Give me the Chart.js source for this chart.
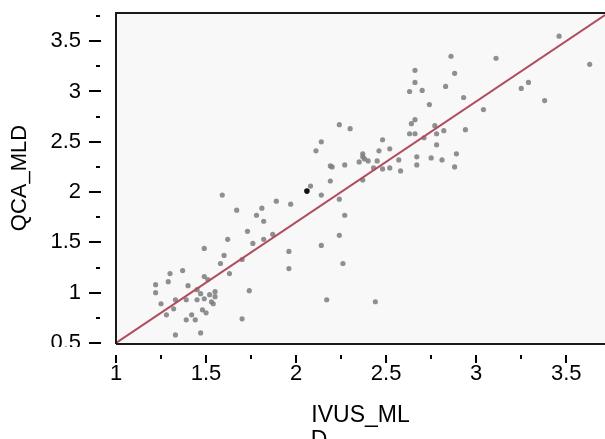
<!DOCTYPE html>
<html><head><meta charset="utf-8">
<script src="https://cdn.jsdelivr.net/npm/chart.js@4.4.1/dist/chart.umd.min.js"></script>
<style>html,body{margin:0;padding:0;background:#fff;}canvas{display:block;}</style>
</head><body>
<canvas id="c" width="605" height="439"></canvas>
<script>
const ivusMLD = [1.49,1.60,1.58,1.70,1.76,1.30,1.37,1.29,1.22,1.22,1.63,1.49,1.51,1.40,1.47,1.55,1.55,1.45,1.49,1.53,1.74,1.25,1.33,1.39,1.32,1.28,1.48,1.50,1.42,1.39,1.44,1.70,1.33,1.47,1.45,1.52,1.54,
  1.59,1.67,1.81,1.78,1.82,1.89,1.97,2.08,2.14,2.19,1.73,1.62,1.82,1.87,1.96,1.96,2.14,2.24,2.27,2.24,2.26,2.17,2.44,
  2.74,2.24,2.30,2.14,2.11,2.66,2.64,2.63,2.66,2.78,2.82,2.48,2.46,2.52,2.37,2.38,2.40,2.35,2.19,2.20,2.27,2.45,2.43,2.48,2.52,2.58,2.57,2.67,2.67,2.75,2.81,2.78,2.37,2.37,2.71,2.77,
  3.46,3.63,3.11,2.86,2.88,2.83,2.93,3.29,3.25,3.38,3.04,2.94,2.89,2.88,2.66,2.66,2.63,2.70];
const qcaMLD = [1.44,1.37,1.29,1.33,1.49,1.19,1.22,1.11,1.08,1.00,1.19,1.16,1.13,1.07,0.99,1.01,0.96,0.93,0.94,0.91,1.02,0.89,0.93,0.93,0.84,0.78,0.83,0.80,0.78,0.73,0.73,0.74,0.58,0.60,1.03,0.98,0.89,
  1.97,1.82,1.84,1.77,1.71,1.91,1.88,2.06,1.97,2.11,1.61,1.53,1.53,1.58,1.41,1.24,1.47,1.57,1.77,1.93,1.29,0.93,0.91,
  2.87,2.67,2.63,2.50,2.41,2.72,2.68,2.58,2.58,2.58,2.61,2.52,2.41,2.43,2.38,2.33,2.31,2.30,2.26,2.25,2.27,2.31,2.24,2.23,2.24,2.21,2.32,2.35,2.27,2.34,2.32,2.47,2.12,2.35,2.54,2.66,
  3.55,3.27,3.33,3.35,3.18,3.05,2.94,3.09,3.03,2.91,2.82,2.62,2.38,2.25,3.21,3.09,3.00,3.01];
const highlightX = [2.06];
const highlightY = [2.01];
const fitX = [1, 3.715];
const fitY = [0.5, 3.76];
const xMajorTicks = [1, 1.5, 2, 2.5, 3, 3.5];
const xMinorTicks = [1.25, 1.75, 2.25, 2.75, 3.25];
const yMajorTicks = [0.5, 1, 1.5, 2, 2.5, 3, 3.5];
const yMinorTicks = [0.75, 1.25, 1.75, 2.25, 2.75, 3.25, 3.75];
const xTitle = ['IVUS_ML', 'D' + ' '.repeat(13)];
const yTitle = 'QCA_MLD';

const pts = (xs, ys) => xs.map((x, i) => ({x, y: ys[i]}));

Chart.defaults.font.family = '"Liberation Sans", Arial, sans-serif';
Chart.defaults.color = '#000';

const frame = {
  id: 'frame',
  beforeDraw(chart) {
    const {ctx, chartArea: a} = chart;
    ctx.save();
    ctx.fillStyle = '#f8f8f8';
    ctx.fillRect(a.left, a.top, a.right - a.left, a.bottom - a.top);
    ctx.restore();
  },
  afterDraw(chart) {
    const {ctx, chartArea: a} = chart;
    const xs = chart.scales.x, ys = chart.scales.y;
    ctx.save();
    ctx.fillStyle = '#fff';
    ctx.fillRect(0, 347, 110, 20);
    ctx.strokeStyle = '#1a1a1a';
    ctx.lineWidth = 2;
    ctx.beginPath();
    ctx.moveTo(a.left, a.bottom + 1); ctx.lineTo(a.left, a.top);
    ctx.lineTo(a.right, a.top);
    ctx.moveTo(a.left, a.bottom + 1); ctx.lineTo(a.right, a.bottom + 1);
    ctx.stroke();
    ctx.strokeStyle = '#000';
    ctx.beginPath();
    yMajorTicks.forEach(v => { const y = Math.round(ys.getPixelForValue(v)); ctx.moveTo(89, y); ctx.lineTo(101, y); });
    yMinorTicks.forEach(v => { const y = Math.round(ys.getPixelForValue(v)); ctx.moveTo(96, y); ctx.lineTo(100, y); });
    xMajorTicks.forEach(v => { const x = Math.round(xs.getPixelForValue(v)); ctx.moveTo(x, 355); ctx.lineTo(x, 363); });
    xMinorTicks.forEach(v => { const x = Math.round(xs.getPixelForValue(v)); ctx.moveTo(x, 355); ctx.lineTo(x, 359); });
    ctx.stroke();
    ctx.restore();
  }
};

new Chart(document.getElementById('c'), {
  type: 'scatter',
  data: {
    datasets: [
      {
        label: 'fit', type: 'line', data: pts(fitX, fitY), showLine: true,
        borderColor: '#b04c5c', borderWidth: 2, pointRadius: 0, order: 0
      },
      {
        label: 'highlight', data: pts(highlightX, highlightY),
        backgroundColor: '#111', borderWidth: 0, pointRadius: 2.8, order: 1
      },
      {
        label: 'QCA_MLD', data: pts(ivusMLD, qcaMLD),
        backgroundColor: 'rgba(125,125,125,0.85)', borderWidth: 0, pointRadius: 2.6, order: 2
      }
    ]
  },
  options: {
    responsive: false,
    animation: false,
    devicePixelRatio: 1,
    layout: {autoPadding: false, padding: {top: 13, right: 0, left: 0, bottom: 0}},
    plugins: {legend: {display: false}, tooltip: {enabled: false}},
    scales: {
      x: {
        type: 'linear', min: 1, max: 3.715,
        afterFit: s => { s.height = 96; s.paddingLeft = 0; s.paddingRight = 0; },
        afterBuildTicks: s => { s.ticks = xMajorTicks.map(v => ({value: v})); },
        ticks: {padding: 18, font: {size: 22}, color: '#000', callback: v => String(v)},
        grid: {display: false, drawTicks: false},
        border: {display: false},
        title: {display: true, text: xTitle, font: {size: 23, lineHeight: 25 / 23}, color: '#000', padding: {top: 0, bottom: -14}}
      },
      y: {
        type: 'linear', min: 0.5, max: 3.78,
        afterFit: s => { s.width = 116; s.paddingTop = 0; s.paddingBottom = 0; },
        afterBuildTicks: s => { s.ticks = yMajorTicks.map(v => ({value: v})); },
        ticks: {padding: 35, font: {size: 22}, color: '#000', callback: v => String(v)},
        grid: {display: false, drawTicks: false},
        border: {display: false},
        title: {display: true, text: yTitle, font: {size: 22}, color: '#000', padding: {top: 7, bottom: 0}}
      }
    }
  },
  plugins: [frame]
});
</script>
</body></html>
